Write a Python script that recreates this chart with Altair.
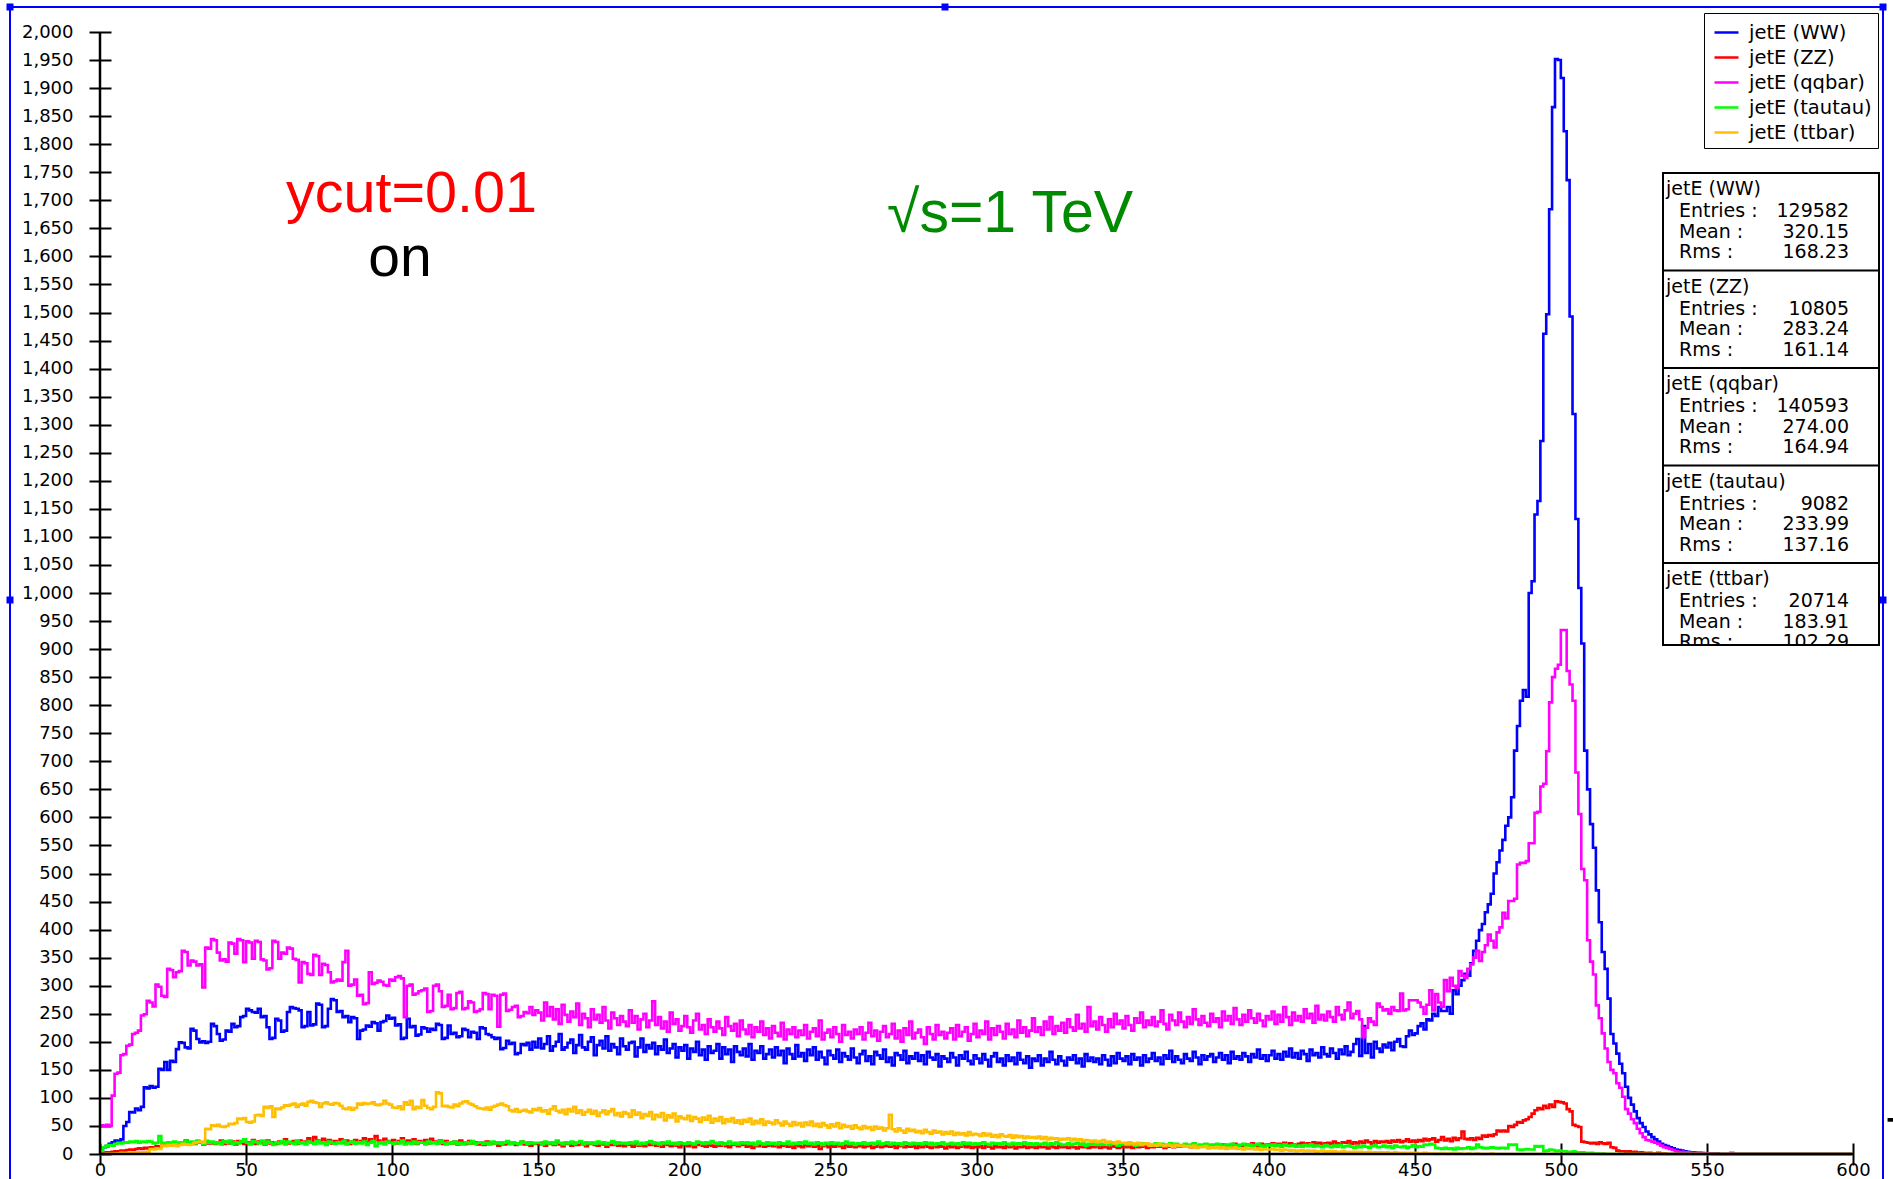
import altair as alt
import pandas as pd

# ---------------------------------------------------------------------------
# Histogram contents: leading-jet energy in 1 GeV bins, first bin at 0 GeV
# ---------------------------------------------------------------------------
BIN_WIDTH = 1
E_MAX = 600

NAMES = ["jetE (WW)", "jetE (ZZ)", "jetE (qqbar)", "jetE (tautau)", "jetE (ttbar)"]
COLORS = ["#0000ff", "#ff0000", "#ff00ff", "#00ff00", "#ffbf00"]

WW = [
    4, 12, 14, 18, 21, 24, 22, 26, 50, 57,
    75, 74, 81, 78, 84, 119, 117, 121, 118, 120,
    152, 150, 164, 150, 166, 164, 187, 199, 198, 190,
    188, 223, 220, 205, 199, 201, 198, 200, 232, 228,
    214, 202, 204, 220, 218, 232, 226, 228, 244, 246,
    259, 256, 253, 252, 259, 244, 246, 226, 205, 207,
    241, 238, 218, 220, 253, 262, 260, 259, 256, 226,
    228, 253, 229, 231, 268, 266, 226, 228, 259, 276,
    274, 253, 255, 244, 246, 235, 244, 242, 205, 220,
    222, 229, 227, 235, 233, 220, 235, 237, 247, 241,
    243, 229, 231, 205, 207, 241, 226, 228, 211, 213,
    226, 224, 218, 223, 221, 232, 230, 205, 207, 229,
    214, 216, 208, 210, 223, 221, 208, 218, 216, 205,
    226, 224, 214, 212, 208, 205, 207, 187, 189, 202,
    196, 198, 178, 180, 196, 194, 198, 186, 200, 190,
    206, 188, 196, 210, 184, 192, 200, 214, 186, 190,
    198, 204, 180, 194, 212, 190, 186, 200, 208, 176,
    194, 202, 188, 210, 184, 196, 190, 178, 206, 192,
    186, 198, 200, 174, 190, 206, 182, 194, 188, 198,
    178, 192, 186, 204, 180, 188, 196, 172, 190, 184,
    194, 170, 188, 182, 200, 176, 186, 168, 192, 180,
    184, 196, 170, 190, 178, 186, 164, 192, 182, 176,
    188, 174, 196, 168, 184, 180, 192, 170, 178, 186,
    172, 190, 176, 184, 162, 188, 178, 170, 194, 174,
    180, 166, 186, 176, 190, 168, 182, 172, 160, 184,
    176, 170, 186, 164, 180, 174, 168, 188, 172, 162,
    178, 184, 166, 174, 160, 182, 176, 170, 186, 164,
    172, 158, 180, 176, 168, 184, 162, 174, 170, 180,
    166, 176, 160, 182, 172, 168, 178, 156, 174, 170,
    164, 180, 172, 158, 176, 170, 182, 166, 160, 176,
    170, 162, 178, 168, 156, 174, 180, 164, 170, 158,
    176, 166, 172, 160, 180, 168, 162, 174, 154, 170,
    166, 176, 158, 170, 164, 182, 168, 160, 174, 166,
    158, 172, 168, 176, 162, 170, 156, 178, 166, 172,
    164, 170, 160, 176, 168, 158, 174, 162, 180, 170,
    166, 174, 160, 178, 168, 172, 158, 176, 164, 170,
    180, 166, 172, 160, 176, 170, 184, 164, 174, 168,
    162, 178, 170, 166, 182, 172, 160, 176, 168, 174,
    178, 164, 172, 180, 168, 176, 162, 182, 170, 174,
    168, 180, 174, 164, 178, 172, 186, 170, 176, 166,
    176, 184, 170, 178, 168, 182, 174, 188, 172, 180,
    170, 184, 178, 166, 186, 176, 180, 172, 190, 178,
    174, 188, 180, 170, 186, 178, 192, 176, 182, 196,
    205, 175, 228, 180, 196, 172, 200, 188, 182, 195,
    190, 198, 185, 200, 205, 192, 191, 210, 220, 212,
    215, 228, 233, 222, 240, 238, 250, 246, 262, 255,
    255, 262, 250, 292, 285, 300, 310, 321, 318, 340,
    362, 380, 399, 410, 431, 445, 464, 500, 520, 541,
    560, 585, 600, 636, 719, 763, 808, 827, 815, 1000,
    1021, 1140, 1164, 1271, 1462, 1497, 1684, 1866, 1952, 1950,
    1918, 1823, 1736, 1493, 1319, 1132, 1009, 910, 719, 650,
    588, 546, 470, 413, 360, 330, 277, 214, 197, 179,
    161, 144, 120, 100, 88, 76, 64, 55, 48, 40,
    35, 30, 26, 22, 18, 16, 14, 12, 10, 8,
    7, 6, 5, 4, 3, 3, 2, 2, 1, 1,
    1, 1, 0, 1, 0, 0, 0, 0, 0, 0,
]

ZZ = [
    0, 2, 3, 3, 4, 5, 5, 6, 6, 7,
    8, 7, 9, 10, 9, 11, 10, 12, 11, 14,
    13, 15, 17, 16, 18, 19, 17, 20, 18, 24,
    19, 21, 18, 22, 20, 17, 23, 19, 21, 18,
    20, 24, 18, 21, 19, 22, 17, 23, 20, 18,
    21, 19, 25, 18, 22, 20, 17, 24, 19, 21,
    18, 22, 20, 26, 19, 21, 23, 18, 24, 20,
    22, 28, 21, 30, 24, 20, 27, 22, 25, 19,
    23, 21, 26, 20, 24, 18, 22, 25, 20, 23,
    28, 21, 26, 22, 32, 24, 20, 27, 23, 21,
    25, 19, 23, 28, 20, 24, 22, 26, 18, 23,
    21, 25, 19, 27, 22, 20, 24, 18, 23, 21,
    19, 22, 17, 24, 20, 18, 23, 19, 21, 17,
    20, 16, 22, 18, 19, 21, 15, 20, 17, 19,
    18, 21, 16, 19, 22, 17, 20, 15, 18, 19,
    17, 20, 15, 19, 18, 16, 21, 17, 14, 19,
    18, 15, 20, 16, 19, 17, 14, 18, 20, 16,
    15, 19, 17, 13, 18, 16, 20, 15, 17, 14,
    18, 16, 13, 19, 15, 17, 14, 18, 16, 20,
    15, 17, 13, 18, 16, 14, 19, 15, 12, 17,
    16, 14, 18, 12, 16, 20, 15, 13, 17, 15,
    13, 17, 15, 19, 14, 12, 16, 18, 14, 16,
    17, 13, 15, 11, 16, 14, 18, 13, 15, 17,
    14, 16, 12, 15, 17, 13, 15, 11, 16, 14,
    12, 16, 14, 17, 13, 15, 9, 14, 16, 12,
    15, 13, 17, 14, 11, 16, 13, 15, 12, 14,
    16, 12, 14, 15, 11, 13, 17, 12, 14, 15,
    13, 15, 11, 14, 16, 12, 14, 13, 15, 11,
    14, 12, 16, 13, 11, 15, 12, 14, 13, 10,
    15, 12, 14, 11, 13, 16, 12, 14, 11, 13,
    12, 14, 11, 15, 13, 10, 14, 12, 13, 11,
    14, 12, 15, 10, 13, 12, 14, 11, 13, 12,
    11, 14, 12, 13, 10, 15, 12, 11, 14, 12,
    13, 11, 14, 12, 10, 13, 12, 15, 11, 13,
    12, 14, 11, 13, 12, 10, 14, 13, 11, 12,
    14, 12, 13, 11, 15, 12, 13, 14, 11, 13,
    12, 14, 13, 15, 11, 13, 16, 12, 14, 13,
    15, 13, 14, 12, 16, 14, 13, 15, 17, 13,
    14, 16, 13, 15, 17, 14, 16, 13, 18, 15,
    16, 14, 17, 15, 19, 16, 14, 18, 15, 17,
    16, 19, 15, 18, 17, 20, 16, 19, 17, 15,
    18, 20, 17, 19, 16, 21, 18, 20, 17, 19,
    20, 18, 22, 19, 17, 21, 20, 23, 18, 21,
    19, 22, 20, 24, 21, 18, 23, 20, 22, 21,
    23, 20, 24, 22, 25, 21, 23, 26, 22, 24,
    22, 25, 23, 27, 24, 26, 28, 22, 25, 30,
    24, 27, 23, 29, 25, 28, 40, 27, 26, 28,
    25, 29, 27, 33, 31, 34, 32, 35, 42, 40,
    42, 40, 50, 48, 52, 57, 56, 60, 62, 66,
    72, 78, 82, 80, 86, 82, 88, 84, 94, 93,
    92, 90, 80, 76, 52, 50, 48, 22, 21, 20,
    19, 20, 18, 21, 19, 18, 20, 12, 11, 6,
    5, 5, 4, 5, 3, 4, 2, 3, 2, 1,
    2, 0, 1, 2, 0, 1, 0, 0, 0, 0,
]

QQBAR = [
    51, 50, 52, 50, 104, 143, 145, 176, 178, 193,
    195, 214, 216, 220, 247, 249, 273, 270, 263, 302,
    298, 282, 280, 330, 328, 315, 324, 326, 362, 360,
    336, 345, 343, 336, 338, 297, 368, 366, 383, 381,
    359, 345, 347, 343, 377, 375, 357, 383, 381, 342,
    379, 377, 348, 380, 378, 347, 345, 329, 331, 380,
    378, 348, 359, 357, 368, 366, 348, 346, 306, 342,
    340, 321, 319, 355, 353, 319, 339, 337, 324, 306,
    308, 311, 309, 342, 362, 300, 302, 311, 282, 284,
    267, 269, 324, 303, 305, 309, 307, 301, 300, 311,
    309, 315, 317, 313, 244, 300, 302, 284, 286, 290,
    292, 295, 253, 255, 300, 302, 290, 262, 264, 284,
    258, 260, 287, 289, 258, 260, 272, 270, 253, 255,
    258, 287, 285, 258, 284, 282, 227, 284, 286, 255,
    257, 262, 264, 244, 246, 253, 251, 262, 248, 256,
    252, 238, 270, 246, 262, 240, 258, 232, 266, 248,
    236, 254, 244, 268, 230, 250, 242, 226, 258, 240,
    248, 234, 262, 238, 224, 252, 242, 230, 246, 236,
    228, 256, 234, 246, 222, 240, 250, 226, 238, 272,
    230, 244, 224, 236, 218, 252, 232, 240, 220, 228,
    246, 226, 216, 238, 250, 222, 230, 214, 240, 226,
    218, 236, 224, 212, 244, 228, 220, 232, 210, 238,
    222, 214, 230, 208, 226, 218, 236, 212, 224, 206,
    228, 216, 210, 234, 204, 222, 214, 226, 208, 220,
    212, 230, 206, 218, 224, 210, 238, 204, 216, 222,
    208, 226, 214, 200, 230, 212, 218, 206, 222, 214,
    226, 204, 216, 234, 210, 220, 202, 218, 228, 208,
    214, 232, 206, 220, 200, 224, 212, 236, 206, 216,
    222, 208, 196, 226, 214, 204, 230, 212, 218, 206,
    216, 224, 204, 230, 210, 218, 226, 202, 214, 232,
    208, 220, 214, 236, 204, 224, 212, 228, 218, 206,
    232, 214, 222, 208, 238, 216, 226, 210, 220, 242,
    218, 226, 212, 236, 222, 244, 214, 228, 220, 234,
    216, 240, 226, 220, 248, 224, 232, 218, 262, 228,
    236, 222, 244, 230, 218, 240, 226, 250, 232, 238,
    224, 246, 230, 220, 242, 234, 252, 226, 238, 230,
    244, 228, 236, 256, 232, 222, 248, 238, 230, 252,
    236, 226, 244, 232, 258, 240, 230, 246, 234, 228,
    250, 236, 242, 226, 254, 238, 246, 232, 260, 240,
    230, 248, 236, 256, 242, 234, 250, 238, 228, 246,
    240, 254, 232, 248, 236, 262, 244, 230, 252, 238,
    246, 236, 258, 242, 250, 234, 264, 240, 248, 238,
    254, 244, 236, 262, 248, 240, 256, 270, 242, 250,
    255, 240, 208, 225, 242, 236, 230, 268, 262, 256,
    258, 250, 262, 256, 255, 286, 256, 258, 274, 274,
    274, 270, 262, 250, 266, 292, 256, 285, 270, 262,
    310, 290, 314, 300, 296, 326, 318, 314, 330, 338,
    350, 362, 344, 360, 372, 391, 380, 368, 395, 404,
    430, 420, 451, 451, 455, 516, 519, 519, 522, 554,
    554, 608, 610, 655, 660, 718, 805, 850, 865, 872,
    934, 934, 861, 837, 808, 680, 606, 508, 488, 381,
    343, 320, 265, 242, 215, 188, 164, 150, 144, 126,
    118, 102, 80, 72, 62, 55, 45, 37, 30, 25,
    24, 22, 20, 18, 15, 12, 11, 9, 7, 5,
    4, 4, 3, 3, 2, 2, 2, 1, 2, 1,
    1, 1, 1, 0, 0, 0, 0, 0, 2, 0,
]

TAUTAU = [
    5, 12, 15, 16, 15, 18, 20, 19, 21, 20,
    22, 21, 23, 20, 22, 21, 23, 22, 19, 20,
    32, 20, 19, 21, 18, 22, 20, 19, 21, 23,
    20, 22, 19, 24, 21, 18, 23, 20, 22, 19,
    21, 17, 23, 20, 24, 18, 21, 19, 22, 26,
    20, 17, 23, 21, 19, 24, 18, 22, 20, 16,
    21, 19, 23, 17, 22, 20, 18, 24, 19, 21,
    17, 22, 20, 18, 23, 19, 21, 16, 22, 20,
    18, 21, 19, 23, 17, 20, 22, 18, 21, 19,
    22, 16, 20, 23, 14, 19, 21, 17, 22, 20,
    18, 21, 19, 24, 17, 20, 18, 22, 19, 21,
    20, 17, 22, 19, 21, 18, 23, 20, 17, 21,
    19, 22, 18, 20, 17, 21, 19, 23, 18, 20,
    21, 18, 20, 17, 22, 19, 21, 18, 20, 23,
    18, 21, 19, 17, 22, 20, 18, 21, 19, 20,
    20, 17, 22, 19, 21, 18, 24, 20, 17, 21,
    19, 22, 18, 20, 23, 17, 21, 19, 20, 18,
    22, 19, 21, 17, 20, 23, 18, 21, 19, 20,
    18, 21, 19, 22, 17, 20, 18, 21, 23, 19,
    20, 17, 21, 19, 22, 18, 20, 17, 21, 19,
    18, 21, 19, 17, 22, 20, 18, 21, 19, 23,
    20, 18, 21, 17, 19, 22, 18, 20, 17, 21,
    19, 21, 18, 20, 16, 22, 19, 17, 21, 18,
    20, 17, 21, 19, 18, 22, 17, 20, 18, 21,
    19, 22, 18, 20, 17, 21, 19, 16, 20, 18,
    21, 18, 20, 17, 19, 22, 18, 20, 16, 19,
    18, 21, 17, 19, 20, 18, 22, 17, 19, 21,
    17, 20, 18, 19, 16, 21, 19, 17, 20, 18,
    19, 17, 21, 18, 20, 16, 19, 18, 21, 17,
    18, 20, 17, 19, 16, 21, 18, 20, 17, 19,
    17, 19, 21, 18, 16, 20, 18, 19, 17, 21,
    18, 16, 20, 17, 19, 18, 21, 17, 19, 16,
    19, 17, 18, 20, 16, 19, 17, 21, 18, 16,
    17, 19, 16, 18, 20, 17, 19, 15, 18, 17,
    19, 16, 18, 17, 20, 16, 18, 19, 15, 17,
    18, 16, 19, 17, 15, 18, 16, 19, 17, 15,
    17, 19, 15, 18, 16, 17, 19, 15, 18, 16,
    15, 18, 16, 17, 19, 14, 17, 16, 18, 15,
    17, 15, 18, 16, 14, 17, 15, 18, 16, 14,
    16, 18, 15, 17, 14, 16, 18, 15, 13, 16,
    15, 17, 14, 16, 13, 17, 15, 14, 16, 13,
    15, 13, 16, 14, 17, 13, 15, 14, 12, 16,
    14, 12, 15, 13, 16, 12, 14, 15, 13, 11,
    14, 12, 15, 13, 11, 14, 16, 12, 13, 15,
    12, 14, 11, 15, 13, 12, 14, 11, 13, 16,
    12, 14, 13, 17, 16, 18, 17, 11, 10, 9,
    11, 9, 10, 8, 11, 9, 10, 10, 12, 9,
    11, 17, 12, 11, 10, 11, 12, 11, 10, 11,
    11, 10, 17, 16, 17, 8, 7, 8, 9, 8,
    8, 14, 13, 14, 5, 6, 8, 7, 5, 6,
    5, 5, 4, 3, 5, 3, 2, 3, 2, 1,
    2, 1, 1, 0, 1, 0, 0, 0, 0, 0,
]

TTBAR = [
    0, 0, 1, 0, 1, 1, 1, 2, 1, 2,
    2, 1, 2, 3, 2, 3, 4, 9, 8, 10,
    9, 15, 14, 16, 15, 17, 14, 16, 18, 17,
    16, 17, 20, 21, 22, 20, 45, 44, 51, 50,
    52, 49, 48, 50, 54, 53, 55, 63, 62, 64,
    57, 56, 58, 69, 70, 68, 84, 82, 85, 66,
    81, 80, 83, 87, 86, 88, 90, 84, 88, 90,
    86, 93, 95, 92, 91, 84, 90, 92, 89, 88,
    91, 90, 86, 81, 80, 83, 79, 82, 90, 88,
    91, 89, 90, 92, 88, 87, 89, 95, 90, 88,
    83, 82, 85, 80, 92, 88, 95, 80, 84, 82,
    96, 86, 82, 80, 84, 110, 108, 85, 86, 84,
    83, 88, 85, 90, 93, 94, 90, 88, 85, 82,
    81, 80, 83, 79, 84, 86, 88, 90, 87, 85,
    78, 76, 80, 75, 77, 79, 76, 74, 80, 78,
    82, 76, 78, 72, 80, 85, 77, 74, 79, 71,
    80, 76, 84, 73, 78, 70, 75, 79, 72, 77,
    68, 74, 78, 71, 76, 80, 69, 73, 67, 75,
    72, 66, 78, 70, 74, 64, 71, 68, 75, 62,
    70, 66, 73, 60, 69, 65, 72, 58, 67, 64,
    62, 68, 59, 66, 63, 57, 65, 61, 68, 56,
    63, 59, 66, 55, 62, 58, 64, 56, 60, 54,
    61, 57, 63, 53, 59, 55, 62, 52, 58, 56,
    53, 60, 55, 51, 58, 54, 50, 57, 52, 55,
    49, 56, 52, 58, 50, 54, 48, 55, 51, 47,
    53, 49, 55, 46, 52, 48, 50, 45, 51, 47,
    44, 50, 46, 48, 43, 49, 45, 47, 42, 46,
    70, 44, 40, 46, 42, 38, 45, 41, 43, 39,
    41, 37, 43, 39, 36, 42, 38, 40, 35, 39,
    36, 40, 34, 38, 35, 37, 33, 39, 34, 36,
    35, 32, 37, 33, 36, 31, 34, 30, 35, 32,
    31, 34, 29, 33, 30, 32, 28, 31, 29, 30,
    28, 31, 27, 30, 26, 29, 27, 28, 25, 27,
    26, 28, 24, 27, 25, 26, 23, 25, 24, 22,
    24, 21, 23, 25, 20, 22, 21, 19, 22, 20,
    20, 18, 21, 19, 17, 20, 16, 18, 19, 15,
    17, 15, 18, 16, 14, 17, 15, 13, 16, 14,
    15, 13, 14, 12, 15, 11, 13, 12, 14, 10,
    12, 11, 13, 10, 12, 9, 11, 10, 12, 9,
    10, 8, 11, 9, 10, 8, 9, 7, 9, 8,
    8, 9, 7, 8, 6, 8, 7, 6, 7, 5,
    6, 7, 5, 6, 5, 6, 4, 5, 6, 4,
    5, 4, 5, 3, 4, 5, 3, 4, 3, 4,
    3, 4, 2, 3, 4, 2, 3, 2, 3, 2,
    3, 2, 2, 3, 1, 2, 2, 1, 2, 1,
    2, 1, 1, 2, 1, 1, 1, 0, 1, 1,
    1, 0, 1, 1, 0, 1, 0, 0, 1, 0,
    0, 1, 0, 0, 0, 0, 1, 0, 0, 0,
]

# Statistics box contents
ENTRIES = ["129582", "10805", "140593", "9082", "20714"]
MEANS = ["320.15", "283.24", "274.00", "233.99", "183.91"]
RMS = ["168.23", "161.14", "164.94", "137.16", "102.29"]

X_TICKS = list(range(0, 601, 50))
Y_TICKS = list(range(0, 2001, 50))

# ---------------------------------------------------------------------------
# Layout (canvas pixels)
# ---------------------------------------------------------------------------
CANVAS_W, CANVAS_H = 1893, 1179
LEFT, TOP = 100, 32
PLOT_W, PLOT_H = 1753, 1122
SMALL_FONT = "DejaVu Sans"
BIG_FONT = "Liberation Sans"
LINE_W = 2.6


def px(x):
    return x - LEFT


def py(y):
    return y - TOP


# ---------------------------------------------------------------------------
# Long-format table for the step outlines
# ---------------------------------------------------------------------------
rows = []
for name, counts in zip(NAMES, [WW, ZZ, QQBAR, TAUTAU, TTBAR]):
    for i, c in enumerate(counts):
        rows.append({"series": name, "E": i * BIN_WIDTH, "count": c})
    # empty upper range of the histogram, drawn along the baseline
    rows.append({"series": name, "E": len(counts) * BIN_WIDTH, "count": 0})
    rows.append({"series": name, "E": E_MAX, "count": 0})
hist = pd.DataFrame(rows)

one = pd.DataFrame({"k": [0]})

axis_common = dict(
    title=None, grid=False, domain=False, offset=-11, tickSize=22,
    tickWidth=2, tickColor="black", labelFont=SMALL_FONT, labelFontSize=18,
    labelColor="black", labelFlush=False, labelOverlap=False,
)
x_enc = alt.X(
    "E:Q",
    scale=alt.Scale(domain=[0, E_MAX], nice=False, zero=False),
    axis=alt.Axis(values=X_TICKS, format="d", labelPadding=-4, **axis_common),
)
y_enc = alt.Y(
    "count:Q",
    scale=alt.Scale(domain=[0, 2000], nice=False),
    axis=alt.Axis(values=Y_TICKS, format=",d", labelPadding=16, **axis_common),
)
color_enc = alt.Color(
    "series:N",
    scale=alt.Scale(domain=NAMES, range=COLORS),
    legend=alt.Legend(
        title=None, orient="none", legendX=px(1704), legendY=py(13),
        strokeColor="black", fillColor="white", padding=6,
        symbolType="stroke", symbolSize=576, symbolStrokeWidth=2.5,
        symbolOffset=3, labelFont=SMALL_FONT, labelFontSize=19.5,
        labelColor="black", labelOffset=9, rowPadding=2, labelLimit=300,
    ),
)


def text(txt, x, y, size=19, color="black", font=SMALL_FONT,
         align="left", baseline="middle"):
    return alt.Chart(one).mark_text(
        font=font, fontSize=size, color=color, align=align, baseline=baseline
    ).encode(x=alt.value(px(x)), y=alt.value(py(y)), text=alt.value(txt))


def box(x1, y1, x2, y2, fill="white", fill_opacity=1.0, stroke="black",
        width=2.0):
    return alt.Chart(one).mark_rect(
        fill=fill, fillOpacity=fill_opacity, stroke=stroke, strokeWidth=width
    ).encode(
        x=alt.value(px(x1)), x2=alt.value(px(x2)),
        y=alt.value(py(y1)), y2=alt.value(py(y2)),
    )


def hline(x1, x2, y, color="black", width=2.0):
    return alt.Chart(one).mark_rule(color=color, strokeWidth=width).encode(
        x=alt.value(px(x1)), x2=alt.value(px(x2)), y=alt.value(py(y))
    )


layers = []

# outer selection frame with its handles
layers.append(box(10, 7, 1883, 1260, fill="white", fill_opacity=0,
                  stroke="#0000ff", width=2))
for hx, hy in [(10, 7), (945, 7), (1883, 7), (10, 600), (1883, 600)]:
    layers.append(
        alt.Chart(one).mark_square(size=49, color="#0000ff", opacity=1)
        .encode(x=alt.value(px(hx)), y=alt.value(py(hy)))
    )

# histogram outlines, drawn in legend order
for name in NAMES:
    layers.append(
        alt.Chart(hist)
        .transform_filter(alt.datum.series == name)
        .mark_line(interpolate="step-after", strokeWidth=LINE_W)
        .encode(x=x_enc, y=y_enc, color=color_enc)
    )

# axis lines through the middle of the ticks
layers.append(
    alt.Chart(one).mark_rule(color="black", strokeWidth=2.5)
    .encode(x=alt.value(0), x2=alt.value(PLOT_W), y=alt.value(PLOT_H))
)
layers.append(
    alt.Chart(one).mark_rule(color="black", strokeWidth=2.5)
    .encode(x=alt.value(0), y=alt.value(0), y2=alt.value(PLOT_H))
)

# statistics panel
SB_L, SB_R, SB_T, SB_B = 1663, 1879, 173, 645
SECTION = 97.5
layers.append(box(SB_L, SB_T, SB_R, SB_B))
for k, name in enumerate(NAMES):
    t = SB_T + k * SECTION
    layers.append(text(name, SB_L + 3, t + 16))
    for j, (lab, val) in enumerate(
        [("Entries :", ENTRIES[k]), ("Mean :", MEANS[k]), ("Rms :", RMS[k])]
    ):
        yy = t + 38 + j * 20.5
        layers.append(text(lab, SB_L + 16, yy))
        layers.append(text(val, 1849, yy, align="right"))
# the panel clips its last line
layers.append(box(SB_L - 2, SB_B + 1, SB_R + 2, SB_B + 24, stroke="white",
                  width=0.5))
layers.append(box(SB_L, SB_T, SB_R, SB_B, fill="white", fill_opacity=0))
for k in range(1, 5):
    layers.append(hline(SB_L, SB_R, SB_T + k * SECTION))

# slide annotations
layers.append(text("ycut=0.01", 286, 212, size=57.5, color="#ff0000",
                   font=BIG_FONT, baseline="alphabetic"))
layers.append(text("on", 400, 276, size=57, color="black", font=BIG_FONT,
                   align="center", baseline="alphabetic"))
layers.append(text("\u221as=1 TeV", 887, 232, size=59, color="#008a00",
                   font=BIG_FONT, baseline="alphabetic"))
layers.append(text("7", 1885, 1153, size=50, color="black", font=BIG_FONT,
                   baseline="alphabetic"))

chart = (
    alt.layer(*layers)
    .properties(
        width=PLOT_W,
        height=PLOT_H,
        padding={
            "left": LEFT,
            "top": TOP,
            "right": CANVAS_W - LEFT - PLOT_W,
            "bottom": CANVAS_H - TOP - PLOT_H,
        },
        autosize=alt.AutoSizeParams(type="none"),
        background="white",
    )
    .configure_view(stroke=None)
)

chart.save("out.html", embed_options={"renderer": "svg", "actions": False})
